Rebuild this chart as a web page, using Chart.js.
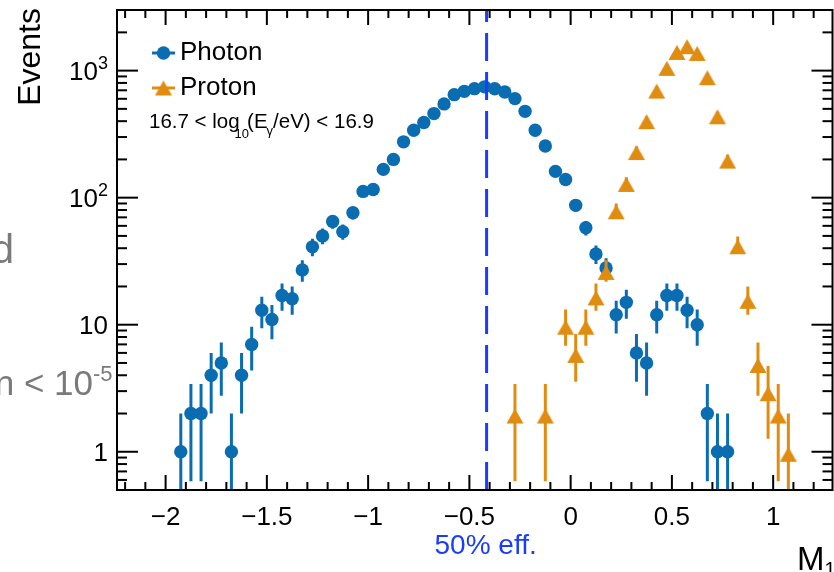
<!DOCTYPE html>
<html>
<head>
<meta charset="utf-8">
<script src="https://cdn.jsdelivr.net/npm/chart.js@4"></script>
<style>
  html, body { margin: 0; padding: 0; background: #fff; }
</style>
</head>
<body>
<canvas id="chart" width="834" height="572"></canvas>
<script>
  // Data (bin centres in M1, event counts)
  const photonX = [-1.925, -1.875, -1.825, -1.775, -1.725, -1.675, -1.625, -1.575, -1.525, -1.475,
    -1.425, -1.375, -1.325, -1.275, -1.225, -1.175, -1.125, -1.075, -1.025, -0.975,
    -0.925, -0.875, -0.825, -0.775, -0.725, -0.675, -0.625, -0.575, -0.525, -0.475,
    -0.425, -0.375, -0.325, -0.275, -0.225, -0.175, -0.125, -0.075, -0.025, 0.025,
    0.075, 0.125, 0.175, 0.225, 0.275, 0.325, 0.375, 0.425, 0.475, 0.525,
    0.575, 0.625, 0.675, 0.725, 0.775];
  const photonN = [1, 2, 2, 4, 5, 1, 4, 7, 13, 11,
    17, 16, 27, 41, 50, 65, 54, 76, 112, 116,
    167, 200, 275, 339, 390, 459, 547, 647, 687, 721,
    745, 720, 679, 602, 478, 339, 255, 161, 139, 87,
    58, 36, 28, 12, 15, 6, 5, 12, 17, 17,
    13, 10, 2, 1, 1];
  const protonX = [-0.275, -0.125, -0.025, 0.025, 0.075, 0.125, 0.175, 0.225, 0.275, 0.325,
    0.375, 0.425, 0.475, 0.525, 0.575, 0.625, 0.675, 0.725, 0.775, 0.825,
    0.875, 0.925, 0.975, 1.025, 1.075];
  const protonN = [2, 2, 10, 6, 10, 17, 27, 81, 133, 237,
    415, 722, 1090, 1455, 1615, 1430, 920, 453, 203, 43,
    16, 5, 3, 2, 1];
  const cutX = -0.415; // 50% efficiency cut

  const xTickLabels = ['\u22122', '\u22121.5', '\u22121', '\u22120.5', '0', '0.5', '1'];
  const xTickValues = [-2, -1.5, -1, -0.5, 0, 0.5, 1];
  const yTickValues = [1, 10, 100, 1000];
  const yTickBase = ['1', '10', '10', '10'];
  const yTickExp = ['', '', '2', '3'];

  const BLUE = '#0a6db2';
  const ORANGE = '#e08c10';
  const CUT = '#1a3cff';
  const FONT = '"Liberation Sans", Arial, Helvetica, sans-serif';
  const font = s => s + 'px ' + FONT;

  // ROOT-like triangle marker, slightly below its anchor
  function triangleMarker(color) {
    const c = document.createElement('canvas');
    c.width = 20; c.height = 22;
    const g = c.getContext('2d');
    g.fillStyle = color;
    g.beginPath();
    g.moveTo(10, 6); g.lineTo(18.5, 21); g.lineTo(1.5, 21);
    g.closePath(); g.fill();
    return c;
  }
  const triImg = triangleMarker(ORANGE);

  const rootStyle = {
    id: 'rootStyle',
    beforeDatasetDraw(chart, args) {
      const ds = chart.data.datasets[args.index];
      const xs = chart.scales.x, ys = chart.scales.y, a = chart.chartArea, ctx = chart.ctx;
      ctx.save();
      ctx.beginPath();
      ctx.rect(a.left, a.top, a.right - a.left, a.bottom - a.top);
      ctx.clip();
      ctx.strokeStyle = ds.errColor;
      ctx.lineWidth = 3;
      ds.data.forEach(p => {
        const e = Math.sqrt(p.y);
        const px = xs.getPixelForValue(p.x);
        const top = ys.getPixelForValue(p.y + e);
        const lo = p.y - e;
        const bot = lo > 0 ? ys.getPixelForValue(lo) : a.bottom + 5;
        ctx.beginPath(); ctx.moveTo(px, top); ctx.lineTo(px, bot); ctx.stroke();
      });
      ctx.restore();
    },
    afterDatasetsDraw(chart) {
      const ctx = chart.ctx, a = chart.chartArea;
      const px = chart.scales.x.getPixelForValue(cutX);
      ctx.save();
      ctx.strokeStyle = CUT;
      ctx.lineWidth = 3;
      ctx.setLineDash([28, 11]);
      ctx.beginPath(); ctx.moveTo(px, a.bottom); ctx.lineTo(px, a.top); ctx.stroke();
      ctx.restore();
    },
    afterDraw(chart) {
      const ctx = chart.ctx, a = chart.chartArea;
      const xs = chart.scales.x, ys = chart.scales.y;
      ctx.save();
      ctx.strokeStyle = '#000';
      ctx.fillStyle = '#000';

      // frame
      ctx.lineWidth = 2;
      ctx.strokeRect(a.left, a.top, a.right - a.left, a.bottom - a.top);

      // x ticks (inside, top and bottom)
      ctx.lineWidth = 2;
      const line = (x1, y1, x2, y2) => { ctx.beginPath(); ctx.moveTo(x1, y1); ctx.lineTo(x2, y2); ctx.stroke(); };
      for (let k = -22; k <= 12; k++) {
        const v = k / 10;
        const major = k % 5 === 0;
        const len = major ? 15 : 8;
        const px = xs.getPixelForValue(v);
        if (px < a.left + 1 || px > a.right - 1) continue;
        line(px, a.bottom, px, a.bottom - len);
        line(px, a.top, px, a.top + len);
      }
      // y ticks (log, inside, left and right)
      [0.1, 1, 10, 100, 1000].forEach(dec => {
        for (let m = 1; m <= 9; m++) {
          const v = dec * m;
          const py = ys.getPixelForValue(v);
          if (py < a.top + 1 || py > a.bottom - 1) continue;
          const len = m === 1 ? 21 : 10;
          line(a.left, py, a.left + len, py);
          line(a.right, py, a.right - len, py);
        }
      });

      // x tick labels
      ctx.font = font(26);
      ctx.textAlign = 'center';
      ctx.textBaseline = 'alphabetic';
      xTickValues.forEach((v, i) => {
        ctx.fillText(xTickLabels[i], xs.getPixelForValue(v), 525);
      });

      // y tick labels with exponents
      yTickValues.forEach((v, i) => {
        const py = ys.getPixelForValue(v);
        let right = 108;
        ctx.textAlign = 'right';
        if (yTickExp[i]) {
          ctx.font = font(18);
          ctx.fillText(yTickExp[i], right, py - 2);
          right -= ctx.measureText(yTickExp[i]).width;
        }
        ctx.font = font(26);
        ctx.fillText(yTickBase[i], right, py + 9.3);
      });

      // axis titles
      ctx.save();
      ctx.translate(40, 8);
      ctx.rotate(-Math.PI / 2);
      ctx.textAlign = 'right';
      ctx.font = font(32);
      ctx.fillText('Events', 0, 0);
      ctx.restore();

      ctx.textAlign = 'left';
      ctx.font = font(33);
      ctx.fillText('M', 797, 570);
      const mW = ctx.measureText('M').width;
      ctx.font = font(20);
      ctx.fillText('1', 797 + mW, 576);

      // 50% eff. label
      ctx.fillStyle = CUT;
      ctx.font = font(28);
      ctx.textAlign = 'center';
      ctx.fillText('50% eff.', xs.getPixelForValue(cutX) - 1, 554);

      // legend
      ctx.fillStyle = '#000';
      ctx.textAlign = 'left';
      ctx.lineWidth = 3;
      ctx.strokeStyle = BLUE;
      line(152, 53, 175, 53);
      ctx.fillStyle = BLUE;
      ctx.beginPath(); ctx.arc(163.5, 53, 6.7, 0, Math.PI * 2); ctx.fill();
      ctx.strokeStyle = ORANGE;
      line(152, 88, 175, 88);
      ctx.drawImage(triImg, 163.5 - 10, 85.5 - 11);
      ctx.fillStyle = '#000';
      ctx.font = font(26);
      ctx.fillText('Photon', 180, 59.5);
      ctx.fillText('Proton', 180, 95);

      // energy range annotation
      let x = 149;
      const put = (txt, size, y, adv) => {
        ctx.font = font(size);
        ctx.fillText(txt, x, y);
        x += ctx.measureText(txt).width + (adv || 0);
      };
      put('16.7 < log', 20.5, 128, -5);
      put('10', 13, 138, -2);
      put('(E', 20.5, 128, -1);
      put('\u03b3', 13, 135, 0);
      put('/eV) < 16.9', 20.5, 128, 0);

      // cropped slide text at the left edge
      ctx.fillStyle = '#7a7a7a';
      ctx.font = font(40);
      ctx.textAlign = 'right';
      ctx.fillText('d', 14, 263);
      ctx.font = font(35);
      ctx.fillText('n < 10', 93, 395);
      ctx.textAlign = 'left';
      ctx.font = font(22);
      ctx.fillText('-5', 93, 381);

      ctx.restore();
    }
  };

  const ctx = document.getElementById('chart').getContext('2d');
  const chart = new Chart(ctx, {
    type: 'scatter',
    data: {
      datasets: [
        {
          label: 'Photon',
          data: photonX.map((x, i) => ({ x: x, y: photonN[i] })),
          backgroundColor: BLUE,
          errColor: BLUE,
          pointStyle: 'circle',
          pointRadius: 6.7,
          borderWidth: 0,
          order: 2
        },
        {
          label: 'Proton',
          data: protonX.map((x, i) => ({ x: x, y: protonN[i] })),
          backgroundColor: ORANGE,
          errColor: ORANGE,
          pointStyle: triImg,
          pointRadius: 9,
          borderWidth: 0,
          order: 1
        }
      ]
    },
    options: {
      responsive: false,
      animation: false,
      events: [],
      layout: { autoPadding: false, padding: { left: 117, right: 1.5, top: 10, bottom: 82 } },
      plugins: { legend: { display: false }, tooltip: { enabled: false } },
      scales: {
        x: { type: 'linear', min: -2.24, max: 1.293, display: false },
        y: { type: 'logarithmic', min: 0.5, max: 3000, display: false }
      }
    },
    plugins: [rootStyle]
  });
</script>
</body>
</html>
